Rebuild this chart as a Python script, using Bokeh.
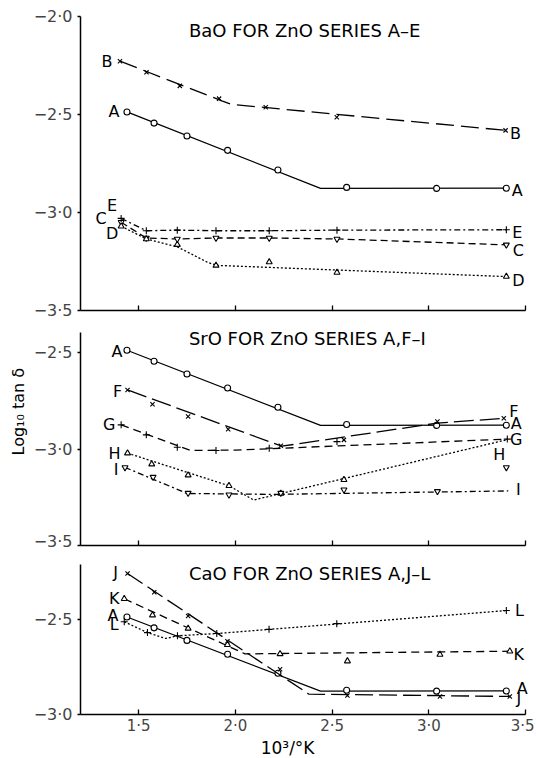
import math
from bokeh.plotting import figure
from bokeh.layouts import column
from bokeh.models import FixedTicker, Label, Title
from bokeh.core.properties import value
from bokeh.embed import file_html
from bokeh.resources import INLINE

FONT = "DejaVu Sans"

# ---------------- ticks ----------------
x_ticks = [1.5, 2.0, 2.5, 3.0, 3.5]
x_tick_labels = ["1·5", "2·0", "2·5", "3·0", "3·5"]
y_ticks_ba = [-2.0, -2.5, -3.0, -3.5]
y_labels_ba = ["−2·0", "−2·5", "−3·0", "−3·5"]
y_ticks_sr = [-2.5, -3.0, -3.5]
y_labels_sr = ["−2·5", "−3·0", "−3·5"]
y_ticks_ca = [-2.5, -3.0]
y_labels_ca = ["−2·5", "−3·0"]

titles = ["BaO FOR ZnO SERIES A–E", "SrO FOR ZnO SERIES A,F–I", "CaO FOR ZnO SERIES A,J–L"]
y_title = "Log₁₀ tan δ"
x_title = "10³/°K"

# ---------------- data ----------------
# series A (reference, shown in every panel)
A_x = [1.44, 1.58, 1.75, 1.96, 2.22, 2.575, 3.04, 3.40]
A_y = [-2.487, -2.544, -2.61, -2.683, -2.783, -2.872, -2.877, -2.876]
A_cx = [1.44, 2.44, 3.40]
A_cy = [-2.487, -2.877, -2.876]

# BaO panel
B_x = [1.404, 1.541, 1.713, 1.916, 2.157, 2.524, 3.396]
B_y = [-2.228, -2.285, -2.354, -2.419, -2.463, -2.514, -2.581]
B_cx = [1.404, 1.93, 1.98, 3.396]
B_cy = [-2.228, -2.43, -2.448, -2.581]

CDE_x = [1.41, 1.54, 1.70, 1.90, 2.175, 2.525, 3.40]
C_y = [-3.05, -3.13, -3.135, -3.13, -3.13, -3.135, -3.165]
D_y = [-3.07, -3.135, -3.164, -3.27, -3.253, -3.306, -3.327]
D_cx = [1.41, 1.54, 1.70, 1.86, 1.91, 3.40]
D_cy = [-3.07, -3.135, -3.175, -3.256, -3.27, -3.327]
E_y = [-3.03, -3.093, -3.09, -3.093, -3.093, -3.09, -3.088]

# SrO panel
F_x = [1.443, 1.572, 1.756, 1.963, 2.235, 2.561, 3.044, 3.387]
F_y = [-2.693, -2.767, -2.831, -2.897, -2.983, -2.952, -2.857, -2.84]
F_cx = [1.443, 2.24, 3.044, 3.387]
F_cy = [-2.693, -2.985, -2.865, -2.84]
G_x = [1.41, 1.54, 1.70, 1.90, 2.175, 2.525, 3.405]
G_y = [-2.874, -2.926, -2.99, -3.007, -2.995, -2.961, -2.948]
G_cx = [1.41, 1.77, 2.0, 3.405]
G_cy = [-2.874, -3.007, -3.005, -2.948]
H_x = [1.443, 1.568, 1.756, 1.967, 2.235, 2.561]
H_y = [-3.021, -3.078, -3.135, -3.19, -3.23, -3.159]
H_cx = [1.443, 1.967, 2.095, 3.40]
H_cy = [-3.021, -3.19, -3.264, -2.952]
H_extra_x = [3.40]
H_extra_y = [-3.095]
I_x = [1.43, 1.575, 1.756, 1.967, 2.235, 2.561, 3.044]
I_y = [-3.095, -3.145, -3.228, -3.237, -3.228, -3.211, -3.219]
I_cx = [1.43, 1.75, 2.2, 3.41]
I_cy = [-3.095, -3.23, -3.235, -3.217]

# CaO panel
J_x = [1.443, 1.581, 1.756, 1.959, 2.231, 2.579, 3.057, 3.418]
J_y = [-2.258, -2.357, -2.482, -2.615, -2.762, -2.90, -2.905, -2.905]
J_cx = [1.443, 2.38, 3.418]
J_cy = [-2.258, -2.893, -2.905]
K_x = [1.426, 1.572, 1.756, 1.959, 2.231, 2.579, 3.057, 3.418]
K_y = [-2.391, -2.477, -2.547, -2.633, -2.681, -2.719, -2.684, -2.667]
K_cx = [1.426, 2.05, 3.418]
K_cy = [-2.391, -2.681, -2.667]
L_x = [1.426, 1.546, 1.701, 1.904, 2.174, 2.524, 3.40]
L_y = [-2.512, -2.569, -2.586, -2.574, -2.552, -2.522, -2.453]
L_cx = [1.426, 1.546, 1.64, 1.70, 1.904, 3.40]
L_cy = [-2.512, -2.569, -2.60, -2.586, -2.574, -2.453]

# ---------------- styling ----------------
LW = 1.3
STY = {
    "A": dict(marker="circle", size=6, dash="solid"),
    "B": dict(marker="x", size=6, dash="18 7"),
    "C": dict(marker="inverted_triangle", size=6, dash="7 4"),
    "D": dict(marker="triangle", size=6, dash="2 2"),
    "E": dict(marker="cross", size=7, dash="6 3 2 3"),
    "F": dict(marker="x", size=6, dash="20 6"),
    "G": dict(marker="cross", size=7, dash="8 5"),
    "H": dict(marker="triangle", size=6, dash="2 2"),
    "I": dict(marker="inverted_triangle", size=6, dash="6 3 2 3"),
    "J": dict(marker="x", size=6, dash="18 6"),
    "K": dict(marker="triangle", size=6, dash="8 5"),
    "L": dict(marker="cross", size=7, dash="2 2"),
}


def make_fig(yr, ybounds, height, top, bottom, yt, yl, show_x_labels):
    p = figure(width=534, height=height, x_range=(1.2, 3.53), y_range=yr,
               output_backend="svg", toolbar_location=None,
               min_border_left=80, min_border_right=3,
               min_border_top=top, min_border_bottom=bottom)
    p.outline_line_color = None
    p.xgrid.visible = False
    p.ygrid.visible = False
    p.background_fill_color = "white"
    p.border_fill_color = "white"
    xa = p.xaxis[0]
    xa.bounds = (1.2, 3.5)
    xa.ticker = FixedTicker(ticks=x_ticks)
    xa.minor_tick_line_color = None
    xa.major_tick_in = 5
    xa.major_tick_out = 0
    xa.axis_line_width = 1.5
    xa.major_tick_line_width = 1.3
    if show_x_labels:
        xa.major_label_overrides = {t: s for t, s in zip(x_ticks, x_tick_labels)}
        xa.major_label_text_font = FONT
        xa.major_label_text_font_size = "15px"
        xa.major_label_standoff = 2
    else:
        xa.major_label_text_font_size = "0px"
        xa.major_label_text_color = None
        xa.major_label_text_alpha = 0
        xa.major_label_standoff = 0
    ya = p.yaxis[0]
    ya.bounds = ybounds
    ya.ticker = FixedTicker(ticks=yt)
    ya.major_label_overrides = {t: s for t, s in zip(yt, yl)}
    ya.major_label_text_font = FONT
    ya.major_label_text_font_size = "16px"
    ya.major_label_standoff = 5
    ya.minor_tick_line_color = None
    ya.major_tick_in = 0
    ya.major_tick_out = 3
    ya.axis_line_width = 1.5
    ya.major_tick_line_width = 1.3
    return p


def series(p, name, px, py, cx, cy, lo, ro, ranchor=None):
    s = STY[name]
    p.line(cx, cy, line_color="black", line_width=LW, line_dash=s["dash"])
    p.scatter(px, py, marker=s["marker"], size=s["size"], fill_color="white",
              line_color="black", line_width=1.1)
    if lo is not None:
        p.text(x=[cx[0]], y=[cy[0]], text=[name], x_offset=lo[0], y_offset=lo[1],
               text_align="center", text_baseline="middle",
               text_font=value(FONT), text_font_size="16px", text_color="black")
    if ro is not None:
        ax, ay = (cx[-1], cy[-1]) if ranchor is None else ranchor
        p.text(x=[ax], y=[ay], text=[name], x_offset=ro[0], y_offset=ro[1],
               text_align="center", text_baseline="middle",
               text_font=value(FONT), text_font_size="16px", text_color="black")


def title(p, x, y, txt):
    p.add_layout(Label(x=x, y=y, text=txt, text_font=FONT, text_font_size="18px",
                       text_align="left", text_baseline="middle", text_color="black"))


# ---------- panel 1: BaO ----------
p1 = make_fig((-3.5, -2.0), (-3.5, -2.0), 320, 16, 10, y_ticks_ba, y_labels_ba, False)
series(p1, "A", A_x, A_y, A_cx, A_cy, (-13, 0), (11, 2))
series(p1, "B", B_x, B_y, B_cx, B_cy, (-13, 0), (10, 3))
series(p1, "C", CDE_x, C_y, CDE_x, C_y, (-20, -4), (12, 6))
series(p1, "D", CDE_x, D_y, D_cx, D_cy, (-9, 7), (12, 4))
series(p1, "E", CDE_x, E_y, CDE_x, E_y, (-9, -13), (11, 3))
title(p1, 1.76, -2.071, titles[0])

# ---------- panel 2: SrO ----------
p2 = make_fig((-3.5, -2.3535), (-3.5, -2.395), 230, 4, 5, y_ticks_sr, y_labels_sr, False)
series(p2, "A", A_x, A_y, A_cx, A_cy, (-10, 1), (10, -2))
series(p2, "F", F_x, F_y, F_cx, F_cy, (-10, 2), (10, -7))
series(p2, "G", G_x, G_y, G_cx, G_cy, (-12, 0), (9, 0))
series(p2, "H", H_x, H_y, H_cx, H_cy, (-13, 0), (-7, -13), ranchor=(H_extra_x[0], H_extra_y[0]))
p2.scatter(H_extra_x, H_extra_y, marker="inverted_triangle", size=6, fill_color="white",
           line_color="black", line_width=1.1)
series(p2, "I", I_x, I_y, I_cx, I_cy, (-9, 2), (10, -1))
title(p2, 1.76, -2.426, titles[1])
p2.add_layout(Title(text=y_title, align="left", offset=90, standoff=6,
                    text_font=FONT, text_font_size="16px", text_font_style="normal",
                    text_color="black"), "left")

# ---------- panel 3: CaO ----------
p3 = make_fig((-3.0, -2.158), (-3.0, -2.21), 187, 4, 20, y_ticks_ca, y_labels_ca, True)
series(p3, "A", A_x, A_y, A_cx, A_cy, (-14, -2), (16, -2))
series(p3, "J", J_x, J_y, J_cx, J_cy, (-12, -1), (9, 2))
series(p3, "K", K_x, K_y, K_cx, K_cy, (-10, 0), (9, 3))
series(p3, "L", L_x, L_y, L_cx, L_cy, (-10, 3), (13, 0))
title(p3, 1.76, -2.256, titles[2])

# ---------- strip holding the x-axis title ----------
p4 = figure(width=534, height=21, x_range=p3.x_range, y_range=(0, 1),
            output_backend="svg", toolbar_location=None,
            min_border_left=80, min_border_right=3, min_border_top=0, min_border_bottom=0,
            x_axis_location=None, y_axis_location=None)
p4.outline_line_color = None
p4.xgrid.visible = False
p4.ygrid.visible = False
p4.text(x=[2.27], y=[0.5], text=[x_title], text_align="center", text_baseline="middle",
        text_font=value(FONT), text_font_size="17px", text_color="black")

layout = column(p1, p2, p3, p4, spacing=0)
open("out.html", "w").write(file_html(layout, INLINE))
